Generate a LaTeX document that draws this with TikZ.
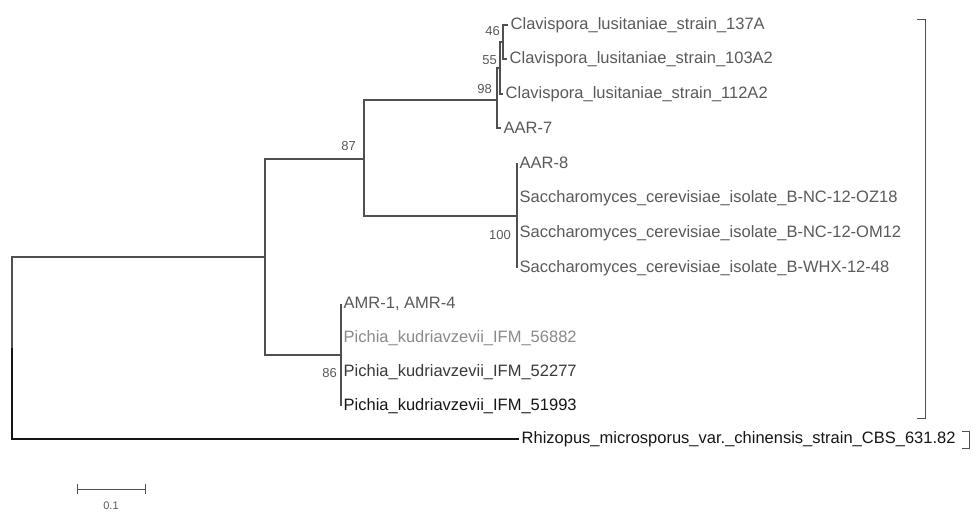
\documentclass[tikz,border=0pt]{standalone}
\usepackage{fontspec}
\setmainfont{Liberation Sans}
\usetikzlibrary{positioning, calc}
\definecolor{treegray}{HTML}{505050}
\definecolor{taxongray}{HTML}{5A5A5A}
\definecolor{palegray}{HTML}{8A8A8A}
\definecolor{midgray}{HTML}{3A3A3A}
\definecolor{inkdark}{HTML}{161616}

\tikzset{
  branch/.style={treegray, line width=1.6pt},
  taxon/.style={anchor=west, inner xsep=2.5pt, inner ysep=0pt, font=\fontsize{16.5}{16.5}\selectfont},
  boot/.style={anchor=east, inner sep=0pt, text=taxongray, font=\fontsize{13}{13}\selectfont},
  bracket/.style={treegray, line width=0.9pt},
}

\begin{document}
\begin{tikzpicture}[x=1pt, y=-1pt]
  \useasboundingbox (0,0) rectangle (975,513);
  \fill[white] (0,0) rectangle (975,513);

  % Internal nodes of the tree
  \coordinate (root) at (12,348);
  \coordinate (nA) at (265,257);
  \coordinate (n87) at (364,159);
  \coordinate (n98) at (497,100);
  \coordinate (n55) at (500,68);
  \coordinate (n46) at (503,42);
  \coordinate (n100) at (517,216);
  \coordinate (n86) at (341,355);

  % Taxa
  \foreach \nm/\x/\y/\col/\lbl in {
      cl137/508/25/taxongray/{Clavispora\_lusitaniae\_strain\_137A},
      cl103/507/59/taxongray/{Clavispora\_lusitaniae\_strain\_103A2},
      cl112/503/94/taxongray/{Clavispora\_lusitaniae\_strain\_112A2},
      aar7/501/128/taxongray/{AAR-7},
      aar8/517/163/taxongray/{AAR-8},
      oz18/517/198/taxongray/{Saccharomyces\_cerevisiae\_isolate\_B-NC-12-OZ18},
      om12/517/233/taxongray/{Saccharomyces\_cerevisiae\_isolate\_B-NC-12-OM12},
      whx/517/268/taxongray/{Saccharomyces\_cerevisiae\_isolate\_B-WHX-12-48},
      amr/341/304/taxongray/{AMR-1, AMR-4},
      pk56882/341/338/palegray/{Pichia\_kudriavzevii\_IFM\_56882},
      pk52277/341/372/midgray/{Pichia\_kudriavzevii\_IFM\_52277},
      pk51993/341/406/inkdark/{Pichia\_kudriavzevii\_IFM\_51993},
      rhiz/519/439/inkdark/{Rhizopus\_microsporus\_var.\_chinensis\_strain\_CBS\_631.82}} {
    \node[taxon, text=\col] (\nm) at (\x,\y) {\lbl};
  }

  % Branches
  \draw[branch] (root) |- (nA);
  \draw[branch] (nA) |- (n87);
  \draw[branch] (nA) |- (n86);
  \draw[branch] (n87) |- (n98);
  \draw[branch] (n87) |- (n100);
  \draw[branch] (n98) |- (n55);
  \draw[branch] (n98) |- (aar7.west);
  \draw[branch] (n55) |- (n46);
  \draw[branch] (n55) |- (cl112.west);
  \draw[branch] (n46) |- (cl137.west);
  \draw[branch] (n46) |- (cl103.west);
  \foreach \nm in {aar8, oz18, om12, whx}
    \draw[branch] (n100) |- (\nm.west);
  \foreach \nm in {amr, pk56882, pk52277, pk51993}
    \draw[branch] (n86) |- (\nm.west);
  \draw[branch, inkdark, line width=2.4pt] (root) |- (rhiz.west);

  % Bootstrap values
  \node[boot] (b46) at (500,31) {46};
  \node[boot] (b55) at (497,60) {55};
  \node[boot] (b98) at (492,89) {98};
  \node[boot] (b87) at (356,146) {87};
  \node[boot] (b100) at (511,235) {100};
  \node[boot] (b86) at (337,373) {86};

  % Group brackets
  \draw[bracket] (917,19) -- (925,19) -- (925,418) -- (917,418);
  \draw[bracket] (962,431) -- (969,431) -- (969,448) -- (962,448);

  % Scale bar
  \draw[treegray, line width=1pt] (77,484) -- (77,494) (77,489) -- (145,489) (145,484) -- (145,494);
  \node[text=taxongray, font=\fontsize{11}{11}\selectfont] (scale) at (111,506) {0.1};
\end{tikzpicture}
\end{document}
